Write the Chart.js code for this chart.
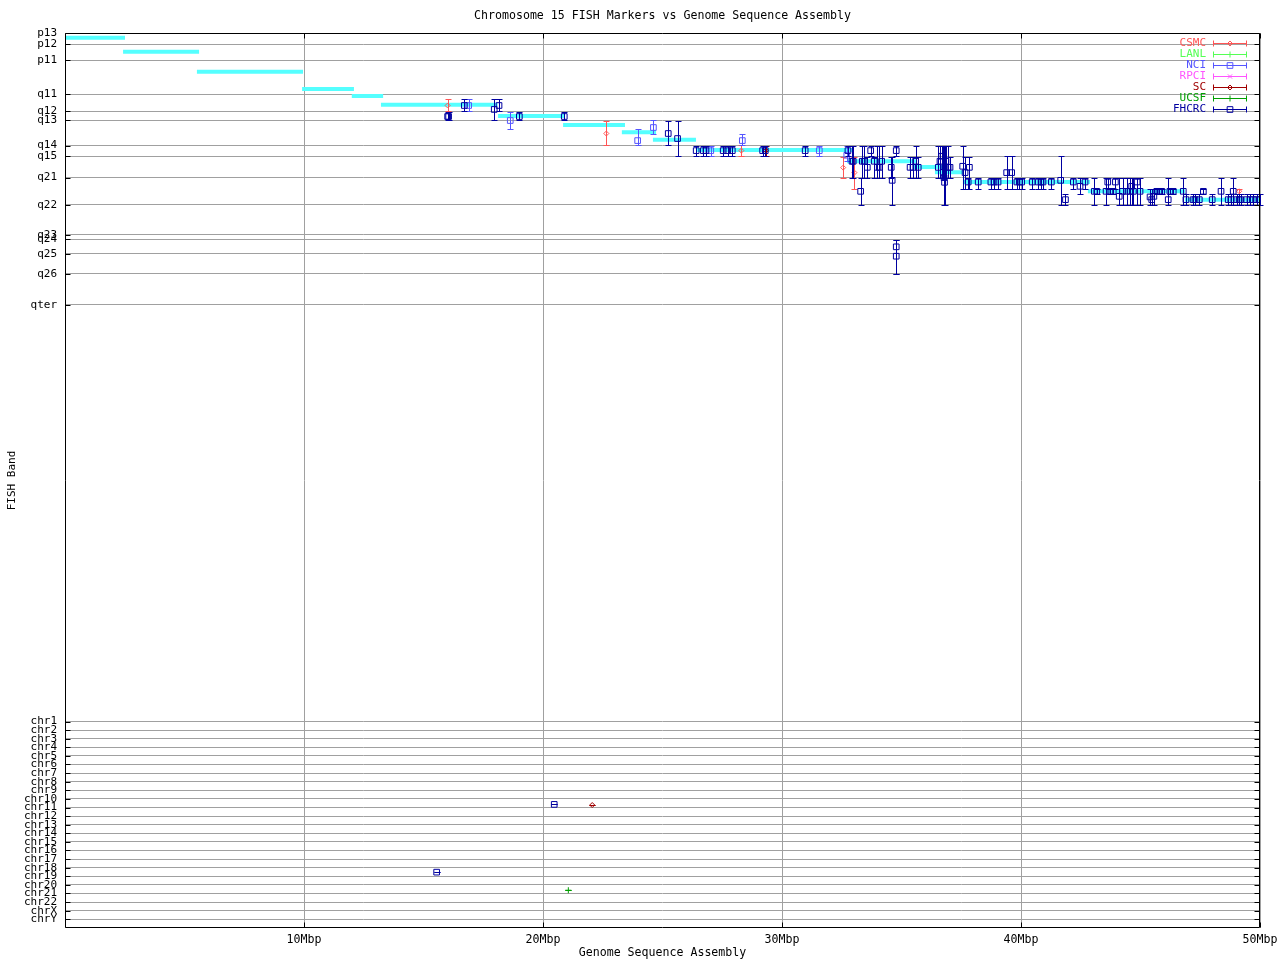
<!DOCTYPE html>
<html>
<head>
<meta charset="utf-8">
<script src="https://cdn.jsdelivr.net/npm/chart.js@4.4.0/dist/chart.umd.min.js"></script>
<style>
  html, body { margin: 0; padding: 0; background: #fff; }
  canvas { display: block; }
</style>
</head>
<body>
<canvas id="fishChart" width="1280" height="960"></canvas>
<script>
// y axis: band ticks (top part) and other chromosomes (bottom part)
const bandLabels = ['p13', 'p12', 'p11', 'q11', 'q12', 'q13', 'q14', 'q15', 'q21', 'q22', 'q23', 'q24', 'q25', 'q26', 'qter'];
const bandPos = [0, 1.27, 3.02, 6.86, 8.77, 9.74, 12.58, 13.77, 16.16, 19.18, 22.54, 23.07, 24.67, 26.91, 30.38];
const chrLabels = ['chr1', 'chr2', 'chr3', 'chr4', 'chr5', 'chr6', 'chr7', 'chr8', 'chr9', 'chr10', 'chr11', 'chr12',
  'chr13', 'chr14', 'chr15', 'chr16', 'chr17', 'chr18', 'chr19', 'chr20', 'chr21', 'chr22', 'chrX', 'chrY'];
const chrPos = [76.93, 77.89, 78.85, 79.81, 80.77, 81.73, 82.69, 83.65, 84.61, 85.57, 86.54, 87.50,
  88.46, 89.42, 90.38, 91.34, 92.30, 93.26, 94.22, 95.18, 96.14, 97.11, 98.07, 99.03];

// x axis ticks (Mbp)
const xTicks = [10, 20, 30, 40, 50];

// assembly runs (cyan)
const segStart = [0, 2.43, 5.52, 9.92, 12.0, 13.22, 18.12, 20.84, 23.3, 24.6, 26.44, 32.72, 35.48, 36.4, 37.57, 42.8, 46.86];
const segEnd = [2.51, 5.61, 9.96, 12.09, 13.31, 18.1, 20.92, 23.43, 24.73, 26.4, 32.97, 35.65, 36.69, 37.57, 42.89, 46.86, 50];
const segPos = [0.53, 2.09, 4.33, 6.27, 7.05, 8.01, 9.26, 10.27, 11.09, 11.93, 13.07, 14.33, 14.97, 15.57, 16.65, 17.69, 18.62];

// markers: [Mbp, band, low, high]
const csmcPoints = [
  [16.01, 8.10, 7.42, 8.73], [22.65, 11.23, 9.82, 12.54], [28.30, 13.14, 12.54, 13.77],
  [32.56, 15.04, 13.85, 16.16], [33.03, 15.60, 13.85, 17.39], [49.13, 17.69, 17.39, 17.95]
];
const lanlPoints = [];
const nciPoints = [
  [16.89, 8.10, 7.42, 8.73], [18.63, 9.78, 8.81, 10.78], [23.96, 12.02, 10.78, 12.54],
  [24.62, 10.56, 9.74, 11.34], [27.02, 13.14, 12.62, 13.77], [28.34, 12.02, 11.34, 12.54],
  [31.56, 13.14, 12.62, 13.77], [32.71, 13.66, 12.62, 14.33]
];
const rpciPoints = [];
const scPoints = [
  [29.33, 13.14, 12.62, 13.77], [22.06, 86.26, 86.26, 86.26]
];
const ucsfPoints = [
  [21.06, 95.78, 95.78, 95.78]
];
const fhcrcPoints = [
  [16.01, 9.33, 8.81, 9.74], [16.05, 9.33, 8.81, 9.74], [16.71, 8.10, 7.42, 8.73],
  [17.96, 8.54, 7.42, 9.74], [18.16, 8.10, 7.42, 8.73], [19.01, 9.33, 8.81, 9.74],
  [20.89, 9.33, 8.81, 9.74], [25.24, 11.23, 9.82, 12.54], [25.63, 11.79, 9.82, 13.77],
  [26.41, 13.14, 12.62, 13.77], [26.71, 13.14, 12.62, 13.77], [26.82, 13.14, 12.62, 13.77],
  [27.54, 13.14, 12.62, 13.77], [27.73, 13.14, 12.62, 13.77], [27.92, 13.14, 12.62, 13.77],
  [29.19, 13.14, 12.62, 13.77], [29.30, 13.14, 12.62, 13.77], [30.97, 13.14, 12.62, 13.77],
  [32.76, 13.14, 12.62, 13.77], [32.93, 14.33, 12.62, 16.16], [32.98, 14.33, 12.62, 16.16],
  [33.29, 17.69, 16.20, 19.18], [33.36, 14.33, 12.62, 16.16], [33.44, 14.33, 12.62, 16.16],
  [33.57, 15.01, 13.85, 16.16], [33.71, 13.14, 12.62, 13.77], [33.86, 14.33, 13.85, 16.16],
  [33.99, 15.01, 12.62, 16.16], [34.07, 15.01, 12.62, 16.16], [34.17, 14.33, 12.62, 16.16],
  [34.57, 15.01, 13.85, 16.16], [34.61, 16.46, 13.85, 19.18], [34.78, 13.14, 12.62, 13.77],
  [34.78, 23.89, 23.15, 26.88], [34.78, 24.94, 23.15, 26.88],
  [35.36, 15.01, 13.85, 16.16], [35.48, 15.01, 13.85, 16.16], [35.59, 14.33, 12.62, 16.16],
  [35.70, 15.01, 13.85, 16.16], [36.54, 15.01, 12.62, 16.16], [36.61, 14.33, 12.62, 16.16],
  [36.68, 13.77, 12.62, 16.16], [36.75, 15.57, 12.62, 16.16], [36.78, 16.16, 12.62, 19.18],
  [36.80, 16.68, 12.62, 19.18], [36.86, 14.33, 12.62, 16.16], [36.95, 15.01, 12.62, 16.16],
  [37.03, 15.01, 13.85, 16.16], [37.56, 14.89, 12.62, 17.39], [37.66, 15.60, 13.85, 17.39],
  [37.79, 16.65, 16.20, 17.39], [37.84, 15.01, 13.85, 17.39], [38.21, 16.65, 16.20, 17.39],
  [38.74, 16.65, 16.20, 17.39], [38.87, 16.65, 16.20, 17.39], [39.04, 16.65, 16.20, 17.39],
  [39.40, 15.60, 13.77, 17.39], [39.61, 15.60, 13.77, 17.39], [39.83, 16.65, 16.20, 17.39],
  [39.93, 16.65, 16.20, 17.39], [40.03, 16.65, 16.20, 17.39], [40.47, 16.65, 16.20, 17.39],
  [40.72, 16.65, 16.20, 17.39], [40.84, 16.65, 16.20, 17.39], [40.92, 16.65, 16.20, 17.39],
  [41.27, 16.65, 16.20, 17.39], [41.66, 16.46, 13.77, 19.18], [41.86, 18.62, 18.03, 19.18],
  [42.19, 16.65, 16.20, 17.39], [42.47, 17.13, 16.20, 18.03], [42.68, 16.65, 16.20, 17.39],
  [43.07, 17.69, 16.20, 19.18], [43.17, 17.69, 17.39, 18.03], [43.56, 17.69, 16.20, 19.18],
  [43.63, 16.65, 16.20, 17.39], [43.72, 17.69, 17.39, 18.03], [43.86, 17.69, 17.39, 18.03],
  [43.95, 16.65, 16.20, 17.39], [44.11, 18.25, 16.20, 19.18], [44.25, 17.69, 16.20, 19.18],
  [44.42, 17.69, 16.20, 19.18], [44.56, 17.69, 16.20, 19.18], [44.63, 17.13, 16.20, 19.18],
  [44.70, 17.69, 16.20, 19.18], [44.86, 16.65, 16.20, 19.18], [44.98, 17.69, 16.20, 19.18],
  [45.40, 18.32, 17.39, 19.18], [45.47, 18.62, 17.39, 19.18], [45.56, 18.25, 17.39, 19.18],
  [45.68, 17.69, 17.39, 18.03], [45.77, 17.69, 17.39, 18.03], [45.89, 17.69, 17.39, 18.03],
  [46.16, 18.62, 16.20, 19.18], [46.23, 17.69, 17.39, 18.03], [46.37, 17.69, 17.39, 18.03],
  [46.79, 17.69, 16.20, 19.18], [46.90, 18.62, 18.03, 19.18], [47.20, 18.62, 18.03, 19.18],
  [47.28, 18.62, 18.03, 19.18], [47.46, 18.62, 18.03, 19.18],
  [47.63, 17.69, 17.39, 18.03], [48.00, 18.62, 18.03, 19.18], [48.37, 17.69, 16.20, 19.18],
  [48.67, 18.62, 18.03, 19.18], [48.78, 18.62, 18.03, 19.18], [48.88, 17.69, 16.20, 19.18],
  [49.03, 18.62, 18.03, 19.18],
  [49.13, 18.62, 18.03, 19.18], [49.20, 18.62, 18.03, 19.18], [49.44, 18.62, 18.03, 19.18],
  [49.58, 18.62, 18.03, 19.18], [49.72, 18.62, 18.03, 19.18], [49.86, 18.62, 18.03, 19.18],
  [49.98, 18.62, 18.03, 19.18],
  [20.47, 86.19, 86.19, 86.19], [15.55, 93.76, 93.76, 93.76]
];

const FONT = { family: 'DejaVu Sans Mono', size: 11, weight: 'normal' };
const WIDE_FONT = { family: 'DejaVu Sans Mono', size: 11.6, weight: 'normal' };
const yTickPos = bandPos.concat(chrPos);
const yTickLabels = bandLabels.concat(chrLabels);

const series = [
  { label: 'CSMC', points: csmcPoints, color: '#ff5555', style: 'rectRot', radius: 2.5 },
  { label: 'LANL', points: lanlPoints, color: '#55ff55', style: 'cross', radius: 3 },
  { label: 'NCI', points: nciPoints, color: '#5555ff', style: 'rect', radius: 4 },
  { label: 'RPCI', points: rpciPoints, color: '#ff55ff', style: 'crossRot', radius: 3 },
  { label: 'SC', points: scPoints, color: '#a00000', style: 'rectRot', radius: 2.5 },
  { label: 'UCSF', points: ucsfPoints, color: '#00a000', style: 'cross', radius: 3 },
  { label: 'FHCRC', points: fhcrcPoints, color: '#0000a0', style: 'rect', radius: 4 }
];

const assembly = [];
segStart.forEach((s, i) => {
  assembly.push({ x: s, y: segPos[i] }, { x: segEnd[i], y: segPos[i] }, { x: segEnd[i], y: null });
});

const datasets = [{
  label: 'assembly',
  data: assembly,
  showLine: true,
  spanGaps: false,
  borderColor: '#55ffff',
  borderWidth: 4,
  pointRadius: 0,
  order: 10
}];
series.forEach((s, i) => {
  datasets.push({
    label: s.label,
    data: s.points.map(p => ({ x: p[0], y: p[1], lo: p[2], hi: p[3] })),
    borderColor: s.color,
    backgroundColor: 'rgba(0,0,0,0)',
    pointStyle: s.style,
    pointRadius: s.radius,
    pointBorderWidth: 1,
    errorBars: true,
    order: series.length - i
  });
});

// vertical error bars with caps, drawn just before each dataset's markers
const errorBars = {
  id: 'errorBars',
  beforeDatasetDraw(chart, args) {
    const ds = chart.data.datasets[args.index];
    if (!ds.errorBars) return;
    const { ctx, scales: { x, y } } = chart;
    ctx.save();
    ctx.strokeStyle = ds.borderColor;
    ctx.lineWidth = 1;
    ctx.beginPath();
    ds.data.forEach(p => {
      const px = Math.round(x.getPixelForValue(p.x)) + 0.5;
      const y1 = Math.round(y.getPixelForValue(p.lo)) + 0.5;
      const y2 = Math.round(y.getPixelForValue(p.hi)) + 0.5;
      ctx.moveTo(px, y1); ctx.lineTo(px, y2);
      ctx.moveTo(px - 3, y1); ctx.lineTo(px + 3, y1);
      ctx.moveTo(px - 3, y2); ctx.lineTo(px + 3, y2);
    });
    ctx.stroke();
    ctx.restore();
  }
};

// gnuplot style frame, inner ticks and key
const frame = {
  id: 'frame',
  afterDraw(chart) {
    const { ctx, chartArea: a, scales: { x, y } } = chart;
    const L = Math.round(a.left) + 0.5, R = Math.round(a.right) - 0.5;
    const T = Math.round(a.top) + 0.5, B = Math.round(a.bottom) - 0.5;
    ctx.save();
    ctx.strokeStyle = '#000';
    ctx.lineWidth = 1;
    ctx.beginPath();
    ctx.rect(L, T, R - L, B - T);
    yTickPos.forEach(v => {
      const py = Math.round(y.getPixelForValue(v)) + 0.5;
      ctx.moveTo(L, py); ctx.lineTo(L + 5, py);
      ctx.moveTo(R, py); ctx.lineTo(R - 5, py);
    });
    xTicks.forEach(v => {
      const px = Math.round(x.getPixelForValue(v)) + 0.5;
      ctx.moveTo(px, B); ctx.lineTo(px, B - 5);
      ctx.moveTo(px, T); ctx.lineTo(px, T + 5);
    });
    ctx.stroke();

    // key
    ctx.font = FONT.size + 'px ' + FONT.family;
    ctx.textAlign = 'right';
    ctx.textBaseline = 'middle';
    series.forEach((s, i) => {
      const ky = Math.round(43 + i * 11) + 0.5;
      const x1 = 1213.5, x2 = 1246.5, xm = 1230;
      ctx.fillStyle = s.color;
      ctx.fillText(s.label, 1206, ky);
      ctx.strokeStyle = s.color;
      ctx.beginPath();
      ctx.moveTo(x1, ky); ctx.lineTo(x2, ky);
      ctx.moveTo(x1, ky - 3); ctx.lineTo(x1, ky + 3);
      ctx.moveTo(x2, ky - 3); ctx.lineTo(x2, ky + 3);
      ctx.stroke();
      if (Chart.helpers && Chart.helpers.drawPoint) {
        ctx.fillStyle = 'rgba(0,0,0,0)';
        Chart.helpers.drawPoint(ctx, { pointStyle: s.style, radius: s.radius, rotation: 0, borderWidth: 1 }, xm, ky);
      }
    });
    ctx.restore();
  }
};

new Chart(document.getElementById('fishChart'), {
  type: 'scatter',
  data: { datasets },
  options: {
    responsive: false,
    animation: false,
    events: [],
    layout: { padding: 0 },
    plugins: {
      legend: { display: false },
      tooltip: { enabled: false },
      title: {
        display: true,
        text: 'Chromosome 15 FISH Markers vs Genome Sequence Assembly',
        fullSize: false,
        color: '#000',
        font: WIDE_FONT,
        padding: { top: 9.2, bottom: 9.88 }
      }
    },
    scales: {
      x: {
        type: 'linear',
        min: 0,
        max: 50,
        afterFit: s => { s.height = 32; s.paddingLeft = 0; s.paddingRight = 20; },
        grid: { color: '#a0a0a0', drawTicks: false },
        border: { display: false },
        ticks: {
          stepSize: 10,
          autoSkip: false,
          maxRotation: 0,
          padding: 5,
          color: '#000',
          font: WIDE_FONT,
          callback: v => (xTicks.includes(v) ? v + 'Mbp' : '')
        },
        title: { display: true, text: 'Genome Sequence Assembly', color: '#000', font: WIDE_FONT, padding: { top: 0, bottom: 0 } }
      },
      y: {
        type: 'linear',
        reverse: true,
        min: 0,
        max: 100,
        afterFit: s => { s.width = 65; },
        afterBuildTicks: s => { s.ticks = yTickPos.map(v => ({ value: v })); },
        grid: { color: '#a0a0a0', drawTicks: false },
        border: { display: false },
        ticks: {
          autoSkip: false,
          padding: 8,
          color: '#000',
          font: FONT,
          callback: (v, i) => yTickLabels[i]
        },
        title: { display: true, text: 'FISH Band', color: '#000', font: FONT, padding: { top: 5.4, bottom: 0 } }
      }
    }
  },
  plugins: [errorBars, frame]
});
</script>
</body>
</html>
